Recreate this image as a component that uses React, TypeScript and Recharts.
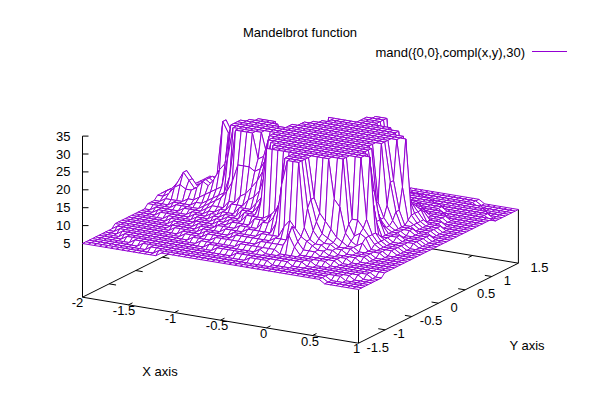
import { ScatterChart, Scatter, XAxis, YAxis } from 'recharts';

const TITLE = 'Mandelbrot function';
const SERIES_NAME = 'mand({0,0},compl(x,y),30)';
const X_LABEL = 'X axis';
const Y_LABEL = 'Y axis';
const X_TICKS = [-2, -1.5, -1, -0.5, 0, 0.5, 1];
const Y_TICKS = [-1.5, -1, -0.5, 0, 0.5, 1, 1.5];
const Z_TICKS = [5, 10, 15, 20, 25, 30, 35];

const COLOR = '#9400d3';

// surface heights, one row per y sample, x going -2 -> 1
const r00 = [5,5,5,5,5,5,5,5,5,5, 5,5,5,5,6,6,6,6,6,6, 6,6,6,6,6,6,6,6,6,6, 6,6,6,6,6,6,6,6,6,6, 6,6,6,5,5,5,5,5,5,5];
const r01 = [5,5,5,5,5,5,5,5,5,5, 5,5,5,6,6,6,6,6,6,6, 6,6,6,6,6,6,6,6,6,6, 6,6,6,6,6,6,6,6,6,6, 6,6,6,5,5,5,5,5,5,5];
const r02 = [5,5,5,5,5,5,5,5,5,5, 5,6,6,6,6,6,6,6,6,6, 6,6,6,6,6,6,6,6,6,6, 6,6,6,6,6,6,6,6,6,6, 6,6,6,5,5,5,5,5,5,5];
const r03 = [5,5,5,5,5,5,5,5,5,6, 6,6,6,6,6,6,6,6,6,6, 6,6,6,6,6,6,6,6,7,7, 7,7,6,6,6,6,6,6,6,6, 6,6,6,6,6,5,5,5,5,5];
const r04 = [5,5,5,5,5,5,5,6,6,6, 6,6,6,6,6,6,6,6,6,6, 6,6,6,6,6,7,7,7,7,7, 7,7,7,7,7,6,6,6,6,6, 6,6,6,6,6,6,5,5,5,5];
const r05 = [5,5,5,5,5,6,6,6,6,6, 6,6,6,6,6,6,6,6,6,6, 6,7,7,7,7,7,7,7,7,7, 7,7,7,7,7,7,7,6,6,6, 6,6,6,6,6,6,6,5,5,5];
const r06 = [5,5,5,5,6,6,6,6,6,6, 6,6,6,6,6,6,6,6,6,7, 7,7,7,7,7,7,7,7,8,7, 7,7,7,7,7,7,7,7,6,6, 6,6,6,6,6,6,6,6,5,5];
const r07 = [5,5,5,6,6,6,6,6,6,6, 6,6,6,6,6,6,6,7,7,7, 7,7,7,7,8,8,8,8,8,8, 8,7,7,7,7,7,7,7,7,7, 6,6,6,6,6,6,6,6,5,5];
const r08 = [5,5,6,6,6,6,6,6,6,6, 6,6,6,6,6,7,7,7,7,8, 8,8,8,8,8,8,8,9,9,9, 9,9,12,9,7,7,7,7,7,7, 7,6,6,6,6,6,6,6,6,6];
const r09 = [5,6,6,6,6,6,6,6,6,6, 6,6,6,7,7,7,7,8,8,8, 8,8,9,9,9,9,9,9,9,10, 10,10,14,10,8,8,8,7,7,7, 7,6,6,6,6,6,6,6,6,6];
const r10 = [6,6,6,6,6,6,6,6,6,6, 6,6,7,7,7,7,8,8,8,8, 8,9,9,9,9,9,10,10,10,10, 13,15,13,11,10,9,8,8,7,7, 7,7,6,6,6,6,6,6,6,6];
const r11 = [6,6,6,6,6,6,6,6,6,6, 7,7,7,7,7,8,8,8,8,9, 9,9,9,10,10,10,10,10,13,24, 31,31,31,13,10,9,9,8,8,7, 7,7,7,6,6,6,6,6,6,6];
const r12 = [6,6,6,6,6,6,6,6,6,7, 7,7,7,7,8,8,8,9,9,9, 9,10,10,10,10,12,12,14,18,31, 31,31,31,18,12,10,9,9,8,8, 7,7,7,7,6,6,6,6,6,6];
const r13 = [6,6,6,6,6,6,6,6,6,7, 7,7,7,8,8,8,8,9,9,10, 10,10,10,12,12,12,14,16,20,31, 31,31,31,20,14,11,10,9,8,8, 8,7,7,7,6,6,6,6,6,6];
const r14 = [6,6,6,6,6,6,6,6,7,7, 7,7,8,8,8,8,9,9,10,10, 10,12,12,12,12,13,14,16,20,31, 31,31,31,20,16,14,12,10,9,8, 8,7,7,7,6,6,6,6,6,6];
const r15 = [6,6,6,6,6,6,6,7,7,7, 7,7,8,8,8,9,9,10,10,10, 12,12,12,16,31,31,31,31,31,31, 31,31,31,31,31,31,20,18,11,9, 8,9,7,7,7,6,6,6,6,6];
const r16 = [6,6,6,6,6,6,7,7,7,7, 7,8,8,8,9,9,10,10,10,12, 12,12,14,16,22,31,31,31,31,31, 31,31,31,31,31,31,31,31,13,10, 11,10,7,7,7,6,6,6,6,6];
const r17 = [6,6,6,6,7,7,7,7,7,7, 8,8,8,9,9,10,10,10,12,12, 12,14,16,22,31,31,31,31,31,31, 31,31,31,31,31,31,31,31,14,14, 12,10,8,7,7,7,6,6,6,6];
const r18 = [6,6,6,7,7,7,7,7,7,8, 8,8,9,9,10,10,12,12,12,14, 15,17,22,31,31,31,31,31,31,31, 31,31,31,31,31,31,31,31,31,31, 14,10,8,7,7,7,6,6,6,6];
const r19 = [6,6,7,7,7,7,7,8,8,8, 8,9,10,10,10,12,12,14,15,17, 19,22,31,31,31,31,31,31,31,31, 31,31,31,31,31,31,31,31,31,31, 31,10,8,7,7,7,6,6,6,6];
const r20 = [7,7,7,7,7,8,8,8,8,8, 9,10,11,12,14,17,22,22,22,21, 22,25,31,31,31,31,31,31,31,31, 31,31,31,31,31,31,31,31,31,31, 18,9,8,7,7,7,6,6,6,6];
const r21 = [7,7,7,7,8,8,8,8,9,9, 10,11,12,13,18,31,31,31,31,24, 25,31,31,31,31,31,31,31,31,31, 31,31,31,31,31,31,31,31,31,20, 12,8,8,7,7,7,6,6,6,6];
const r22 = [7,7,8,8,8,8,9,9,10,11, 12,13,14,22,31,31,31,31,31,31, 25,31,31,31,31,31,31,31,31,31, 31,31,31,31,31,31,31,31,31,20, 12,8,8,8,7,7,7,6,6,6];
const r23 = [8,8,9,11,12,11,11,12,14,13, 15,18,20,31,31,31,31,31,31,31, 31,31,31,31,31,31,31,31,31,31, 31,31,31,31,31,31,31,31,31,14, 10,8,8,8,7,7,7,6,6,6];
const r24 = [8,9,10,12,15,13,11,12,14,13, 16,31,28,31,31,31,31,31,31,31, 31,31,31,31,31,31,31,31,31,31, 31,31,31,31,31,31,31,31,15,11, 9,8,8,7,7,7,7,6,6,6];

// back row (y = 1.5) first, the surface is the same on both sides of y = 0
const halfRows = [r00,r01,r02,r03,r04,r05,r06,r07,r08,r09,r10,r11,r12,r13,r14,r15,r16,r17,r18,r19,r20,r21,r22,r23,r24];
const zRows = [...halfRows, ...[...halfRows].reverse()];
const LAST = zRows.length - 1;

// view 60,30 as pixel slopes, chart axes below run 1:1 with pixels
const project = (x: number, y: number, z: number) => ({
  px: 82.5 + 92 * (x + 2) + 53.3 * (y + 1.5),
  py: 243.5 + 15.33 * (x + 2) - 26.67 * (y + 1.5) - 3.58 * (z - 5),
});
const BASE_Z = -10;

const sampleX = (i: number) => -2 + (i * 3) / LAST;
const sampleY = (j: number) => 1.5 - (j * 3) / LAST;

const buildCells = () => {
  const cells: any[] = [];
  for (let j = 0; j < LAST; j++) {
    for (let i = 0; i < LAST; i++) {
      const corners = [
        project(sampleX(i), sampleY(j), zRows[j][i]),
        project(sampleX(i + 1), sampleY(j), zRows[j][i + 1]),
        project(sampleX(i + 1), sampleY(j + 1), zRows[j + 1][i + 1]),
        project(sampleX(i), sampleY(j + 1), zRows[j + 1][i]),
      ];
      const px = corners.reduce((s, c) => s + c.px, 0) / 4;
      const py = corners.reduce((s, c) => s + c.py, 0) / 4;
      cells.push({ px, py, offsets: corners.map((c) => `${c.px - px},${c.py - py}`).join(' ') });
    }
  }
  return cells;
};

const seg = (a: any, b: any, color = '#000') => ({
  px: (a.px + b.px) / 2,
  py: (a.py + b.py) / 2,
  dx: (b.px - a.px) / 2,
  dy: (b.py - a.py) / 2,
  color,
});

const buildAxes = () => {
  const lines = [
    seg(project(-2, -1.5, BASE_Z), project(1, -1.5, BASE_Z)),
    seg(project(1, -1.5, BASE_Z), project(1, 1.5, BASE_Z)),
    seg(project(-2, -1.5, BASE_Z), project(-2, 1.5, BASE_Z)),
    seg(project(-2, 1.5, BASE_Z), project(1, 1.5, BASE_Z)),
    seg(project(-2, -1.5, BASE_Z), project(-2, -1.5, 35)),
    seg(project(1, -1.5, BASE_Z), project(1, -1.5, 5)),
    seg(project(1, 1.5, BASE_Z), project(1, 1.5, 5)),
  ];
  X_TICKS.slice(1, -1).forEach((x) => {
    lines.push(seg(project(x, -1.5, BASE_Z), project(x, -1.425, BASE_Z)));
    lines.push(seg(project(x, 1.5, BASE_Z), project(x, 1.425, BASE_Z)));
  });
  Y_TICKS.slice(1, -1).forEach((y) => {
    lines.push(seg(project(1, y, BASE_Z), project(0.925, y, BASE_Z)));
    lines.push(seg(project(-2, y, BASE_Z), project(-1.925, y, BASE_Z)));
  });
  Z_TICKS.forEach((z) => {
    const p = project(-2, -1.5, z);
    lines.push(seg(p, { px: p.px + 6, py: p.py }));
  });
  return lines;
};

const buildTexts = () => {
  const texts: any[] = [
    { px: 300, py: 32, text: TITLE, anchor: 'middle' },
    { px: 525, py: 52, text: SERIES_NAME, anchor: 'end' },
    { px: 160, py: 371, text: X_LABEL, anchor: 'middle' },
    { px: 527, py: 345, text: Y_LABEL, anchor: 'middle' },
  ];
  X_TICKS.forEach((x) => {
    const p = project(x, -1.5, BASE_Z);
    texts.push({ px: p.px - 5 + (x + 2), py: p.py + 5.5, text: String(x), anchor: 'middle' });
  });
  Y_TICKS.forEach((y) => {
    const p = project(1, y, BASE_Z);
    texts.push({ px: p.px + (y < 0 ? 8 : 12), py: p.py + 4, text: String(y), anchor: 'start' });
  });
  Z_TICKS.forEach((z) => {
    const p = project(-2, -1.5, z);
    texts.push({ px: p.px - 12, py: p.py, text: String(z), anchor: 'end' });
  });
  return texts;
};

const CellShape = ({ cx, cy, payload }: any) => (
  <polygon transform={`translate(${cx},${cy})`} points={payload.offsets} fill="#fff" stroke={COLOR} strokeWidth={1} />
);

const SegShape = ({ cx, cy, payload }: any) => (
  <line
    x1={cx - payload.dx}
    y1={cy - payload.dy}
    x2={cx + payload.dx}
    y2={cy + payload.dy}
    stroke={payload.color}
    strokeWidth={1}
  />
);

const TextShape = ({ cx, cy, payload }: any) => (
  <text x={cx} y={cy} textAnchor={payload.anchor} dominantBaseline="central" fontFamily="Liberation Sans" fontSize={13} fill="#000">
    {payload.text}
  </text>
);

export default function App() {
  return (
    <div style={{ position: 'absolute', left: 0, top: 0, background: '#fff' }}>
      <ScatterChart width={600} height={400} margin={{ top: 0, right: 0, bottom: 0, left: 0 }}>
        <XAxis type="number" dataKey="px" domain={[0, 600]} hide />
        <YAxis type="number" dataKey="py" domain={[0, 400]} reversed hide />
        <Scatter data={buildAxes()} shape={SegShape} isAnimationActive={false} />
        <Scatter data={buildCells()} shape={CellShape} isAnimationActive={false} />
        <Scatter data={[seg({ px: 532, py: 51.5 }, { px: 567, py: 51.5 }, COLOR)]} shape={SegShape} isAnimationActive={false} />
        <Scatter data={buildTexts()} shape={TextShape} isAnimationActive={false} />
      </ScatterChart>
    </div>
  );
}
